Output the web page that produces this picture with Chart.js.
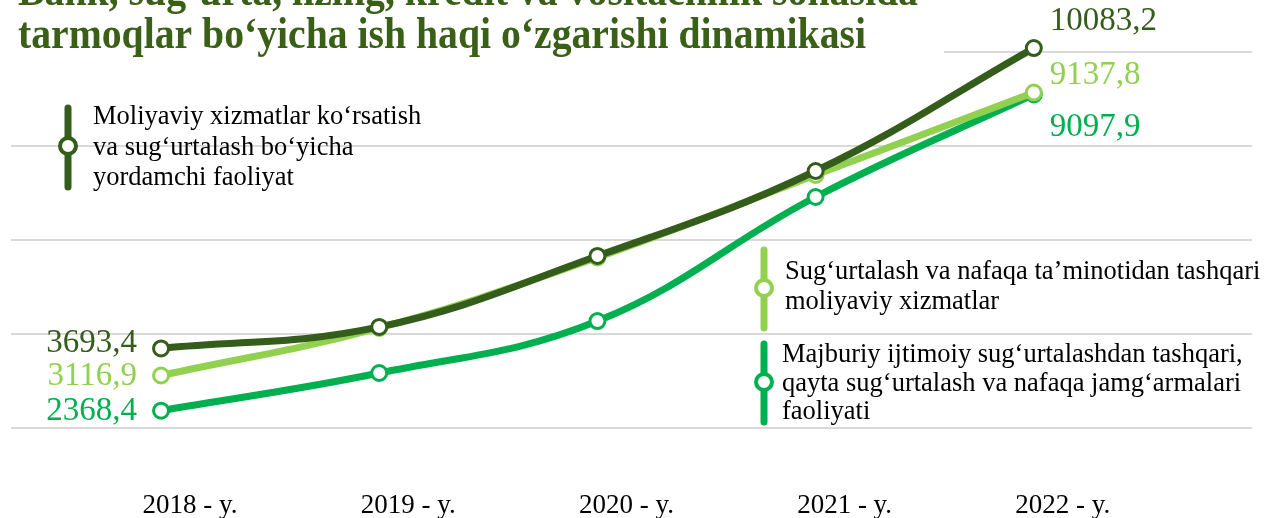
<!DOCTYPE html>
<html>
<head>
<meta charset="utf-8">
<script src="https://cdn.jsdelivr.net/npm/chart.js@4.4.1/dist/chart.umd.min.js"></script>
<style>
  html, body { margin: 0; padding: 0; background: #ffffff; }
  #wrap { width: 1268px; height: 518px; }
</style>
</head>
<body>
<div id="wrap"><canvas id="c" width="1268" height="518"></canvas></div>
<script>
// ---- data ----
const categories = ['2018 - y.', '2019 - y.', '2020 - y.', '2021 - y.', '2022 - y.'];
const seriesNames = [
  ['Moliyaviy xizmatlar ko\u2018rsatish', 'va sug\u2018urtalash bo\u2018yicha', 'yordamchi faoliyat'],
  ['Sug\u2018urtalash va nafaqa ta\u2019minotidan tashqari', 'moliyaviy xizmatlar'],
  ['Majburiy ijtimoiy sug\u2018urtalashdan tashqari,', 'qayta sug\u2018urtalash va nafaqa jamg\u2018armalari', 'faoliyati']
];
const auxiliaryServices = [3693.4, 4150, 5660, 7468, 10083.2];
const otherFinancialServices = [3116.9, 4130, 5630, 7385, 9137.8];
const pensionFundsActivity = [2368.4, 3170, 4275, 6915, 9097.9];
const yTicks = [2000, 4000, 6000, 8000, 10000];
const titleLines = ['Bank, sug\u2018urta, lizing, kredit va vositachilik sohasida',
                    'tarmoqlar bo\u2018yicha ish haqi o\u2018zgarishi dinamikasi'];

const colors = ['#345c1a', '#92D050', '#00B050'];
const seriesValues = [auxiliaryServices, otherFinancialServices, pensionFundsActivity];

const datasets = seriesValues.map((vals, i) => ({
  label: seriesNames[i].join(' '),
  data: vals.map((v, k) => ({ x: k, y: v })),
  borderColor: colors[i],
  backgroundColor: '#ffffff',
  pointBackgroundColor: '#ffffff',
  pointBorderColor: colors[i],
  pointBorderWidth: 3,
  pointRadius: 7.5,
  borderWidth: 7,
  tension: 0.4,
  clip: false,
  fill: false
}));

// label placement styles (per series)
const firstLabelDy = [-5, 1, 1];
const lastLabelDy = [-27, -17, 33];
const legendBoxes = [
  { x: 68, y1: 108, y2: 187, cy: 146, tx: 93, ty: [124, 155, 185] },
  { x: 764, y1: 250, y2: 328, cy: 288, tx: 785, ty: [279, 309] },
  { x: 764, y1: 344, y2: 422, cy: 382, tx: 782, ty: [362, 391, 419] }
];

const fmt = v => v.toFixed(1).replace('.', ',');

const decorPlugin = {
  id: 'decor',
  afterDatasetsDraw(chart) {
    const ctx = chart.ctx;
    const xs = chart.scales.x, ys = chart.scales.y;
    ctx.save();
    // value labels
    ctx.font = '33px "Liberation Serif"';
    ctx.textBaseline = 'middle';
    seriesValues.forEach((vals, i) => {
      ctx.fillStyle = colors[i];
      ctx.textAlign = 'right';
      ctx.fillText(fmt(vals[0]), xs.getPixelForValue(0) - 24, ys.getPixelForValue(vals[0]) + firstLabelDy[i]);
      ctx.textAlign = 'left';
      const n = vals.length - 1;
      ctx.fillText(fmt(vals[n]), xs.getPixelForValue(n) + 16, ys.getPixelForValue(vals[n]) + lastLabelDy[i]);
    });
    // legends
    legendBoxes.forEach((b, i) => {
      ctx.strokeStyle = colors[i];
      ctx.lineWidth = 7;
      ctx.lineCap = 'round';
      ctx.beginPath();
      ctx.moveTo(b.x, b.y1);
      ctx.lineTo(b.x, b.y2);
      ctx.stroke();
      ctx.beginPath();
      ctx.arc(b.x, b.cy, 8, 0, Math.PI * 2);
      ctx.fillStyle = '#ffffff';
      ctx.fill();
      ctx.lineWidth = 4;
      ctx.stroke();
      ctx.fillStyle = '#000000';
      ctx.font = '26.5px "Liberation Serif"';
      ctx.textAlign = 'left';
      ctx.textBaseline = 'alphabetic';
      seriesNames[i].forEach((line, k) => ctx.fillText(line, b.tx, b.ty[k]));
    });
    // title
    ctx.fillStyle = '#ffffff';
    ctx.fillRect(0, 0, 944, 57);
    ctx.fillStyle = '#3a5f17';
    ctx.font = 'bold 44px "Liberation Serif"';
    ctx.textAlign = 'left';
    ctx.textBaseline = 'alphabetic';
    ctx.fillText(titleLines[0], 18, 5, 900);
    ctx.fillText(titleLines[1], 18, 48, 848);
    ctx.restore();
  }
};

new Chart(document.getElementById('c'), {
  type: 'line',
  data: { datasets },
  options: {
    responsive: false,
    devicePixelRatio: 1,
    animation: false,
    layout: { padding: { left: 9, right: 16, top: 52, bottom: 0 } },
    plugins: { legend: { display: false }, tooltip: { enabled: false } },
    scales: {
      x: {
        type: 'linear',
        min: -0.69,
        max: 5.0,
        afterBuildTicks(scale) { scale.ticks = categories.map((c, i) => ({ value: i })); },
        afterFit(scale) { scale.height = 90; },
        grid: { display: false, drawTicks: false },
        border: { display: false },
        ticks: {
          callback: (v) => categories[v],
          autoSkip: false,
          maxRotation: 0,
          labelOffset: 29,
          padding: 64,
          color: '#000000',
          font: { family: 'Liberation Serif', size: 27, lineHeight: 1 }
        }
      },
      y: {
        min: 2000,
        max: 10000,
        afterBuildTicks(scale) { scale.ticks = yTicks.map(v => ({ value: v })); },
        grid: { color: '#d9d9d9', lineWidth: 2, drawTicks: false },
        border: { display: false },
        ticks: { display: false }
      }
    }
  },
  plugins: [decorPlugin]
});
</script>
</body>
</html>
